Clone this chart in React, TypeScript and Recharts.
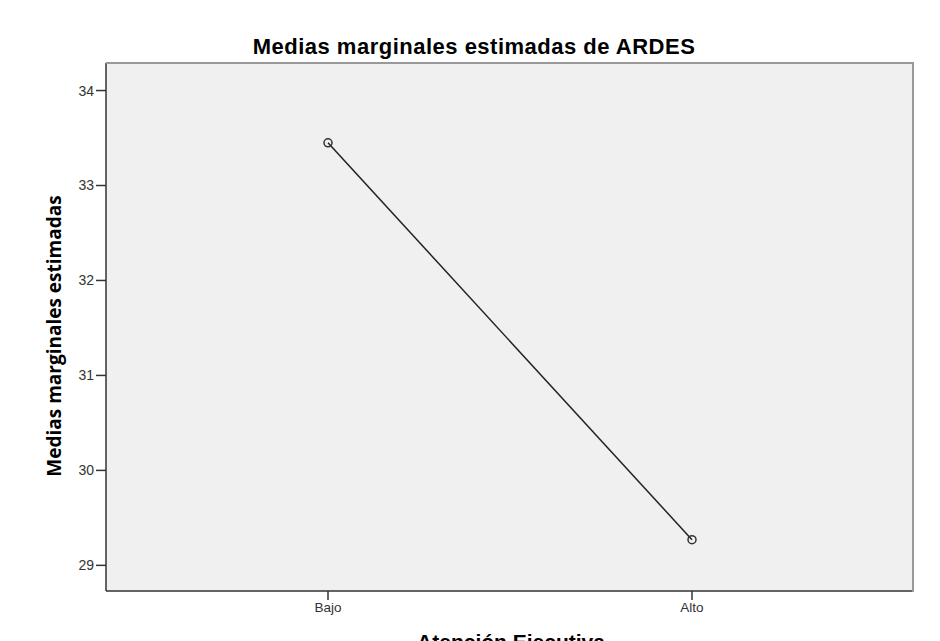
import React from "react"
import { LineChart, Line, XAxis, YAxis, CartesianGrid } from "recharts"

const categories = ["Bajo", "Alto"]
const means = [33.45, 29.27]
const yTicks = [29, 30, 31, 32, 33, 34]

const data = categories.map((name, i) => ({ name, value: means[i] }))

const font = "'Liberation Sans', Arial, sans-serif"

export default function App() {
  return (
    <div style={{ position: "absolute", left: 0, top: 0, width: 940, height: 641, overflow: "hidden", background: "#fff", fontFamily: font }}>
      <LineChart width={940} height={641} data={data} margin={{ top: 63, right: 26, bottom: 0, left: 0 }}>
        <CartesianGrid fill="#f0f0f0" horizontal={false} vertical={false} />
        <XAxis
          dataKey="name"
          padding={{ left: 222, right: 222 }}
          height={50}
          tickSize={9}
          tickMargin={2}
          stroke="#333"
          strokeWidth={1.5}
          tick={{ fill: "#333", fontSize: 13.5, fontFamily: font }}
        />
        <YAxis
          domain={[28.73, 34.29]}
          ticks={yTicks}
          width={106}
          tickSize={10}
          tickMargin={2}
          stroke="#333"
          strokeWidth={1.5}
          tick={{ fill: "#333", fontSize: 14, fontFamily: font }}
        />
        <Line
          dataKey="value"
          stroke="#222"
          strokeWidth={1.5}
          isAnimationActive={false}
          dot={{ r: 4, stroke: "#333", strokeWidth: 1.5, fill: "none" }}
        />
      </LineChart>
      <div style={{ position: "absolute", left: 106, top: 62, width: 806, height: 528, borderTop: "2px solid #999", borderRight: "2px solid #999", pointerEvents: "none" }} />
      <div style={{ position: "absolute", left: 174, width: 600, top: 36, textAlign: "center", fontSize: 22, letterSpacing: 0.5, fontWeight: "bold", lineHeight: "22px", whiteSpace: "nowrap" }}>
        Medias marginales estimadas de ARDES
      </div>
      <div style={{ position: "absolute", left: 54, top: 336, transform: "translate(-50%, -50%) rotate(-90deg)", fontFamily: "'Open Sans', sans-serif", fontSize: 19, fontWeight: "bold", lineHeight: "20px", whiteSpace: "nowrap" }}>
        Medias marginales estimadas
      </div>
      <div style={{ position: "absolute", left: 211, width: 600, top: 631, textAlign: "center", fontSize: 21, fontWeight: "bold", lineHeight: "21px", whiteSpace: "nowrap" }}>
        Atención Ejecutiva
      </div>
    </div>
  )
}
